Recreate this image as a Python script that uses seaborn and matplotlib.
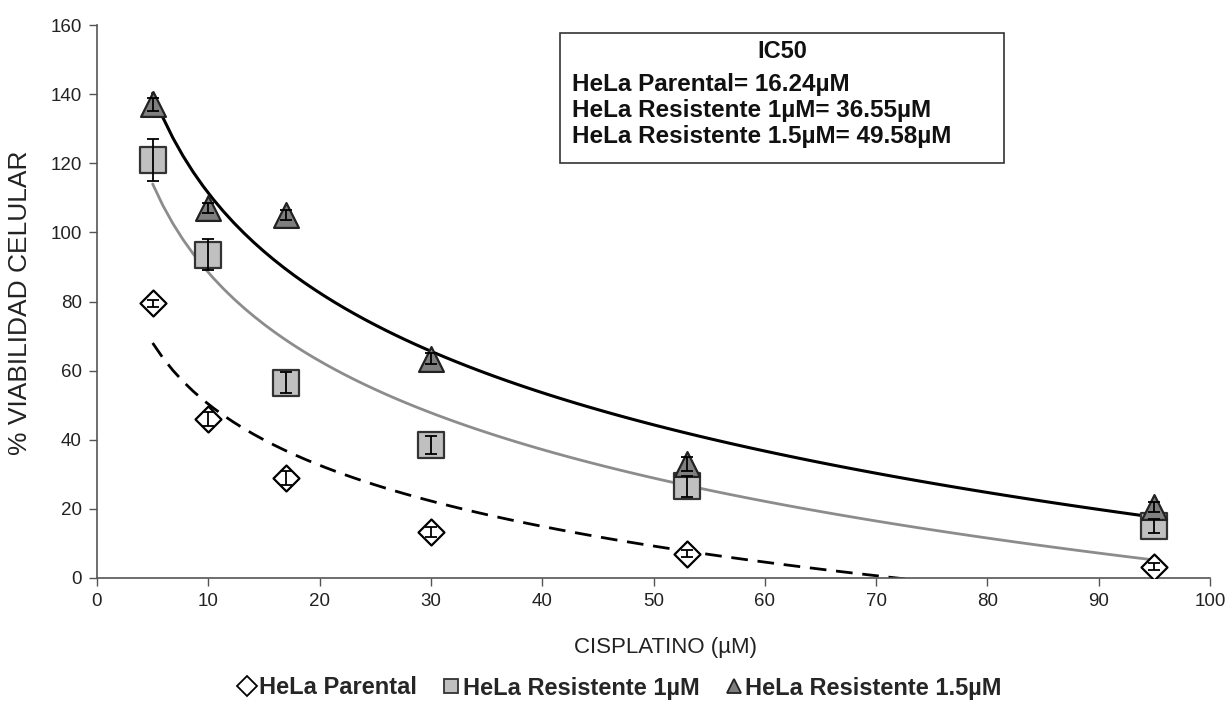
import numpy as np
import pandas as pd
import matplotlib
matplotlib.use("Agg")
import matplotlib.pyplot as plt
from matplotlib.lines import Line2D
import seaborn as sns

# ---- data ----
dose = [5, 10, 17, 30, 53, 95]
parental = [79.5, 46, 29, 13.3, 7, 3.2]
parental_err = [1, 2, 2, 1.5, 1, 1]
res1 = [121, 93.5, 56.5, 38.5, 26.5, 15]
res1_err = [6, 4.5, 3, 2.5, 3, 2]
res15 = [137, 107, 105, 63.5, 33, 20.5]
res15_err = [2, 1.5, 1.5, 1.5, 2, 1.5]
series_names = ["HeLa Parental", "HeLa Resistente 1µM", "HeLa Resistente 1.5µM"]
ic50_title = "IC50"
ic50_lines = ["HeLa Parental= 16.24µM", "HeLa Resistente 1µM= 36.55µM",
              "HeLa Resistente 1.5µM= 49.58µM"]
x_ticks = list(range(0, 101, 10))
y_ticks = list(range(0, 161, 20))

sns.set_theme(style="white")
plt.rcParams['font.family'] = ['Liberation Sans', 'DejaVu Sans']

W, H = 1230, 706
fig = plt.figure(figsize=(W / 100, H / 100), dpi=100)
ax = fig.add_axes([97 / W, 1 - 578 / H, 1113 / W, 553 / H])

styles = [
    dict(marker="D", fc="white", ec="black", s=175, ls="--", lc="black", lw=2.0),
    dict(marker="s", fc="#c0c0c0", ec="#333333", s=340, ls="-", lc="#8c8c8c", lw=2.0),
    dict(marker="^", fc="#7f7f7f", ec="#222222", s=320, ls="-", lc="black", lw=2.2),
]
vals = [parental, res1, res15]
errs = [parental_err, res1_err, res15_err]

df = pd.DataFrame({
    "dose": dose * 3,
    "viab": parental + res1 + res15,
    "serie": sum([[n] * len(dose) for n in series_names], []),
})

# trend lines (logarithmic fits)
for name, st in zip(series_names, styles):
    sub = df[df.serie == name]
    lk = dict(color=st["lc"], ls=st["ls"], lw=st["lw"], zorder=2)
    if st["ls"] == "--":
        lk["dashes"] = (6, 3.5)
    sns.regplot(data=sub, x="dose", y="viab", logx=True, ci=None, scatter=False,
                ax=ax, line_kws=lk)

# markers + error bars
for name, st, v, e in zip(series_names, styles, vals, errs):
    sub = df[df.serie == name]
    sns.scatterplot(data=sub, x="dose", y="viab", marker=st["marker"], s=st["s"],
                    color=st["fc"], edgecolor=st["ec"], linewidth=1.6, ax=ax, zorder=3)
    ax.errorbar(dose, v, yerr=e, fmt="none", ecolor="black", elinewidth=1.3,
                capsize=4.5, capthick=1.3, zorder=4)

ax.set_xlim(0, 100)
ax.set_ylim(0, 160)
ax.set_xticks(x_ticks)
ax.set_yticks(y_ticks)
ax.tick_params(axis="both", direction="out", length=6, width=1, color="#555555",
               labelsize=13.5, labelcolor="#222222", bottom=True, left=True, pad=5)
for sp in ["top", "right"]:
    ax.spines[sp].set_visible(False)
for sp in ["left", "bottom"]:
    ax.spines[sp].set_color("#555555")
    ax.spines[sp].set_linewidth(1.2)
ax.set_xlabel("CISPLATINO (µM)", fontsize=16, color="#222222")
ax.xaxis.set_label_coords((666 - 97) / 1113, (578 - 637) / 553)
ax.set_ylabel("% VIABILIDAD CELULAR", fontsize=19, color="#222222")
ax.yaxis.set_label_coords((32 - 97) / 1113, (578 - 303) / 553)

# IC50 box
box_l, box_b, box_r, box_t = 560 / W, 1 - 163 / H, 1004 / W, 1 - 33 / H
fig.patches.append(plt.Rectangle((box_l, box_b), box_r - box_l, box_t - box_b,
                                 transform=fig.transFigure, fill=False,
                                 ec="#333333", lw=1.2))
fig.text((box_l + box_r) / 2, 1 - 51 / H, ic50_title, ha="center", va="center",
         fontsize=17, fontweight="bold", color="#111111")
for i, t in enumerate(ic50_lines):
    fig.text(572 / W, 1 - (84 + 26.5 * i) / H, t, ha="left", va="center",
             fontsize=17.5, fontweight="bold", color="#111111")

handles = [Line2D([0], [0], marker=st["marker"], ls="none", markerfacecolor=st["fc"],
                  markeredgecolor=st["ec"], markersize=10, markeredgewidth=1.3)
           for st in styles]
fig.legend(handles, series_names, loc="center", bbox_to_anchor=(619 / W, 1 - 688 / H),
           ncol=3, frameon=False, prop=dict(size=17, weight="bold"),
           handletextpad=0.05, columnspacing=1.0, handlelength=0.9)

fig.savefig("out.png", dpi=100)
